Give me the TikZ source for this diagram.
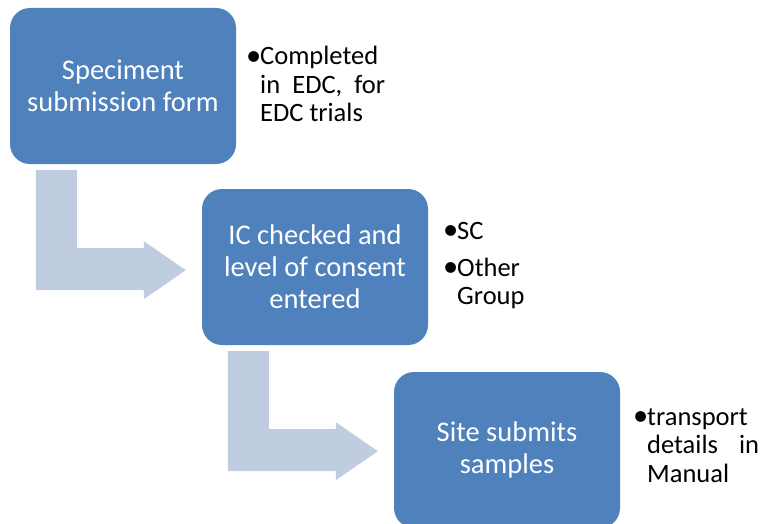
\documentclass[tikz,border=0pt]{standalone}
\usepackage{fontspec}
\setmainfont{Carlito}
\usetikzlibrary{calc}
\definecolor{boxblue}{RGB}{79,129,189}
\definecolor{arrowgrey}{RGB}{192,204,224}
\newcommand{\bul}{\leavevmode\llap{\makebox[14pt][l]{\raisebox{-0.5pt}{\scalebox{1.15}{•}}}}}
\begin{document}
\begin{tikzpicture}[x=1pt,y=-1pt,
  box/.style={fill=boxblue, rounded corners=20pt, minimum width=226pt, minimum height=156pt,
    inner sep=0pt, text=white, align=center, font=\fontsize{28.5}{32}\selectfont},
  bent/.style={fill=arrowgrey},
  note/.style={anchor=base west, inner sep=0pt, font=\fontsize{26.5}{28.5}\selectfont}]
\useasboundingbox (0,0) rectangle (762,524);
\node[box] (b1) at (123,86) {Speciment\\submission form};
\node[box] (b2) at (315,267) {IC checked and\\level of consent\\entered};
\node[box] (b3) at (507,450) {Site submits\\samples};
\fill[bent] ($(b1.south west)+(26,6)$) -- ++(41,0) -- ++(0,78) -- ++(67,0) -- ++(0,-7)
  -- ++(42,29) -- ++(-42,29) -- ++(0,-9) -- ++(-108,0) -- cycle;
\fill[bent] ($(b2.south west)+(26,6)$) -- ++(41,0) -- ++(0,78) -- ++(67,0) -- ++(0,-7)
  -- ++(42,29) -- ++(-42,29) -- ++(0,-9) -- ++(-108,0) -- cycle;
\node[note] (n1) at (260,65) {\parbox[t]{125pt}{\bul Completed\\\makebox[125pt][s]{in EDC, for}\\EDC trials}};
\node[note] (n2) at (457,239) {\parbox[t]{90pt}{\bul SC\par\vspace{8.5pt}\bul Other\\Group}};
\node[note] (n3) at (647,425) {\parbox[t]{112pt}{\bul transport\\\makebox[112pt][s]{details in}\\Manual}};
\end{tikzpicture}
\end{document}
